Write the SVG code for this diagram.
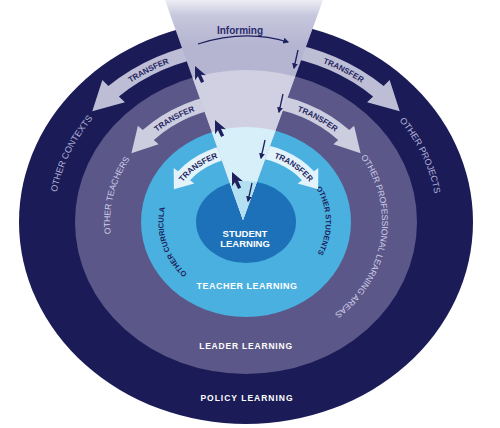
<svg xmlns="http://www.w3.org/2000/svg" xmlns:xlink="http://www.w3.org/1999/xlink" width="500" height="428" viewBox="0 0 500 428">
<style>
text{font-family:"Liberation Sans",Arial,sans-serif;}
.lbl-w{fill:#ffffff;font-weight:bold;text-anchor:middle;}
.tr{fill:#24255e;font-weight:bold;font-size:8px;text-anchor:middle;}
.ring-o{fill:#b3b3d9;font-size:9px;text-anchor:middle;}
.ring-m{fill:#cfcfe8;font-size:8.6px;text-anchor:middle;}
.ring-i{fill:#1d1f5c;font-weight:bold;font-size:7.5px;text-anchor:middle;}
.band-o{fill:#bdbdd6;}
.band-m{fill:#cdcde0;}
.band-i{fill:#e2f3fb;}
.dn{stroke:#1e1f5e;stroke-width:1.3;fill:none;marker-end:url(#ah);}
.up{fill:#1e1f5e;}
</style>
<defs>
<marker id="ah" viewBox="0 0 10 10" refX="8" refY="5" markerWidth="4.5" markerHeight="4.5" orient="auto">
<path d="M0 0 L10 5 L0 10 Z" fill="#1e1f5e"/>
</marker>
<linearGradient id="fg" x1="0" y1="0" x2="0" y2="45" gradientUnits="userSpaceOnUse">
<stop offset="0" stop-color="#eeeef5"/>
<stop offset="0.35" stop-color="#c6c6dd"/>
<stop offset="1" stop-color="#b5b5d2"/>
</linearGradient>
<clipPath id="cl-leader"><ellipse cx="246" cy="222" rx="171" ry="152"/></clipPath>
<clipPath id="cl-teacher"><ellipse cx="246" cy="222" rx="105" ry="95"/></clipPath>
<clipPath id="cl-student"><ellipse cx="246" cy="222" rx="50" ry="41"/></clipPath>
<path id="funnelShape" d="M165 0 L323 0 L243 220 Z"/>
<path id="p-ctx" d="M68.4 287.4 A192.2 171 0 0 1 172.4 64.0"/>
<path id="p-tch" d="M131.6 287.4 A136 121 0 0 1 172.5 120.2"/>
<path id="p-cur" d="M206 286.3 A82.6 73.5 0 0 1 173.8 186.4"/>
<path id="p-stu" d="M301.4 170.9 A79.8 71 0 0 1 303.4 271.3"/>
<path id="p-prj" d="M320.7 65.5 A191.1 170 0 0 1 421.9 288.4"/>
<path id="p-pro" d="M330.1 126.9 A136 121 0 0 1 296.5 334.3"/>
<path id="t-o-l" d="M108.5 99.7 A194.5 173 0 0 1 195.7 54.9"/>
<path id="t-o-r" d="M296.3 54.9 A194.5 173 0 0 1 383.5 99.7"/>
<path id="t-m-l" d="M142.7 144.9 A134.9 120 0 0 1 213.4 105.6"/>
<path id="t-m-r" d="M278.6 105.6 A134.9 120 0 0 1 349.3 144.9"/>
<path id="t-i-l" d="M181.7 183.4 A77.6 69 0 0 1 219.5 157.2"/>
<path id="t-i-r" d="M272.5 157.2 A77.6 69 0 0 1 310.3 183.4"/>
<path id="upa" d="M0 0 L6 13 L1.7 10.5 L1.7 18 L-1.7 18 L-1.7 10.5 L-6 13 Z"/>
</defs>

<g id="policy-learning">
<ellipse cx="246" cy="222" rx="227" ry="202" fill="#1b1c57"/>
<text class="lbl-w" x="247" y="401" font-size="8.5" letter-spacing="1">POLICY LEARNING</text>
<text class="ring-o"><textPath xlink:href="#p-ctx" href="#p-ctx" startOffset="50%">OTHER CONTEXTS</textPath></text>
<text class="ring-o"><textPath xlink:href="#p-prj" href="#p-prj" startOffset="50%">OTHER PROJECTS</textPath></text>
</g>

<g id="leader-learning">
<ellipse cx="246" cy="222" rx="171" ry="152" fill="#5c5789"/>
<text class="lbl-w" x="246" y="349" font-size="8.5" letter-spacing="0.8">LEADER LEARNING</text>
<text class="ring-m"><textPath xlink:href="#p-tch" href="#p-tch" startOffset="50%">OTHER TEACHERS</textPath></text>
<text class="ring-m"><textPath xlink:href="#p-pro" href="#p-pro" startOffset="50%">OTHER PROFESSIONAL LEARNING AREAS</textPath></text>
</g>

<g id="teacher-learning">
<ellipse cx="246" cy="222" rx="105" ry="95" fill="#49b0df"/>
<text class="lbl-w" x="247" y="289" font-size="9" letter-spacing="0.5">TEACHER LEARNING</text>
<text class="ring-i"><textPath xlink:href="#p-cur" href="#p-cur" startOffset="50%">OTHER CURRICULA</textPath></text>
<text class="ring-i"><textPath xlink:href="#p-stu" href="#p-stu" startOffset="50%">OTHER STUDENTS</textPath></text>
</g>

<g id="student-learning">
<ellipse cx="246" cy="222" rx="50" ry="41" fill="#1d71b8"/>
</g>

<g id="connectors">
<g id="transfer-bands" transform="translate(246 222) scale(1.124 1)">
<path class="band-o" d="M-31.78 -180.22 A183 183 0 0 0 -122.45 -135.99 L-127.80 -141.94 L-136.78 -110.76 L-107.73 -119.65 L-113.08 -125.59 A169 169 0 0 1 -29.35 -166.43 Z"/>
<path class="band-o" d="M31.78 -180.22 A183 183 0 0 1 122.45 -135.99 L127.80 -141.94 L136.78 -110.76 L107.73 -119.65 L113.08 -125.59 A169 169 0 0 0 29.35 -166.43 Z"/>
<path class="band-m" d="M-11.33 -129.50 A130 130 0 0 0 -91.92 -91.92 L-96.17 -96.17 L-101.97 -68.78 L-77.78 -77.78 L-82.02 -82.02 A116 116 0 0 1 -10.11 -115.56 Z"/>
<path class="band-m" d="M11.33 -129.50 A130 130 0 0 1 91.92 -91.92 L96.17 -96.17 L101.97 -68.78 L77.78 -77.78 L82.02 -82.02 A116 116 0 0 0 10.11 -115.56 Z"/>
<path class="band-i" d="M-2.76 -78.95 A79 79 0 0 0 -60.52 -50.78 L-64.35 -53.99 L-64.15 -32.69 L-45.96 -38.57 L-49.79 -41.78 A65 65 0 0 1 -2.27 -64.96 Z"/>
<path class="band-i" d="M2.76 -78.95 A79 79 0 0 1 60.52 -50.78 L64.35 -53.99 L64.15 -32.69 L45.96 -38.57 L49.79 -41.78 A65 65 0 0 0 2.27 -64.96 Z"/>
</g>
</g>

<g id="informing-funnel">
<use href="#funnelShape" xlink:href="#funnelShape" fill="url(#fg)"/>
<use href="#funnelShape" xlink:href="#funnelShape" fill="#d1d0e2" clip-path="url(#cl-leader)"/>
<use href="#funnelShape" xlink:href="#funnelShape" fill="#d6eff9" clip-path="url(#cl-teacher)"/>
<use href="#funnelShape" xlink:href="#funnelShape" fill="#b3dff2" clip-path="url(#cl-student)"/>
<text x="240" y="34" font-size="10" font-weight="bold" fill="#2b2c6c" text-anchor="middle">Informing</text>
</g>

<g id="student-label">
<text class="lbl-w" x="245" y="236.5" font-size="9.5">STUDENT</text>
<text class="lbl-w" x="245" y="247" font-size="9.5">LEARNING</text>
</g>

<g id="transfer-labels">
<text class="tr"><textPath xlink:href="#t-o-l" href="#t-o-l" startOffset="50%">TRANSFER</textPath></text>
<text class="tr"><textPath xlink:href="#t-o-r" href="#t-o-r" startOffset="50%">TRANSFER</textPath></text>
<text class="tr"><textPath xlink:href="#t-m-l" href="#t-m-l" startOffset="50%">TRANSFER</textPath></text>
<text class="tr"><textPath xlink:href="#t-m-r" href="#t-m-r" startOffset="50%">TRANSFER</textPath></text>
<text class="tr"><textPath xlink:href="#t-i-l" href="#t-i-l" startOffset="50%">TRANSFER</textPath></text>
<text class="tr"><textPath xlink:href="#t-i-r" href="#t-i-r" startOffset="50%">TRANSFER</textPath></text>
</g>

<g id="flow-arrows">
<path class="dn" d="M198 44 Q245 29 288 42"/>
<path class="dn" d="M298 50 L294 68"/>
<path class="dn" d="M283 94 L279 112"/>
<path class="dn" d="M265 140 L261 158"/>
<path class="dn" d="M252 183 L248 201"/>
<use class="up" href="#upa" xlink:href="#upa" transform="translate(195 66) rotate(-25)"/>
<use class="up" href="#upa" xlink:href="#upa" transform="translate(215 120) rotate(-25)"/>
<use class="up" href="#upa" xlink:href="#upa" transform="translate(232 172) rotate(-25)"/>
</g>
</svg>
